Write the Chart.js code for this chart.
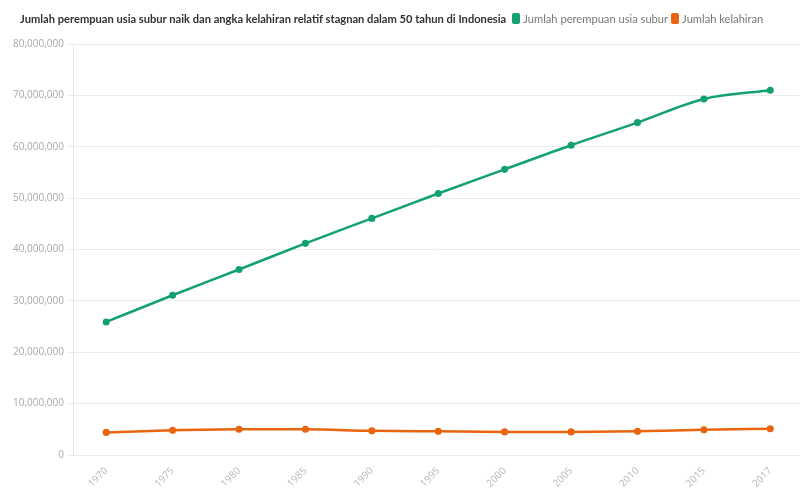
<!DOCTYPE html>
<html>
<head>
<meta charset="utf-8">
<script src="https://cdn.jsdelivr.net/npm/chart.js@4"></script>
<style>
    html, body {
        margin: 0;
        padding: 0;
        background: #fff;
        overflow: hidden;
        width: 800px;
        height: 500px;
    }
    .header {
        position: absolute;
        top: 12px;
        left: 20px;
        display: flex;
        align-items: center;
        font-family: Lato, sans-serif;
        font-size: 11.15px;
        white-space: nowrap;
        z-index: 2;
    }
    .header .title {
        font-weight: bold;
        color: #333;
        margin-right: 6px;
    }
    .header .item {
        display: flex;
        align-items: center;
        color: #777;
        margin-right: 3px;
    }
    .header .swatch {
        width: 8px;
        height: 11px;
        border-radius: 2px;
        margin-right: 3px;
    }
    .chart-box {
        position: absolute;
        top: 0;
        left: 0;
        width: 810px;
        height: 500px;
    }
</style>
</head>
<body>
<div class="header">
    <span class="title" id="chartTitle"></span>
    <span class="item"><span class="swatch" style="background:#12a074"></span><span id="lbl0"></span></span>
    <span class="item"><span class="swatch" style="background:#e8640f"></span><span id="lbl1"></span></span>
</div>
<div class="chart-box">
    <canvas id="mainChart"></canvas>
</div>
<script>
const chartTitle = 'Jumlah perempuan usia subur naik dan angka kelahiran relatif stagnan dalam 50 tahun di Indonesia';
const seriesNames = ['Jumlah perempuan usia subur', 'Jumlah kelahiran'];
const years = ['1970', '1975', '1980', '1985', '1990', '1995', '2000', '2005', '2010', '2015', '2017'];
const womenFertile = [25900000, 31100000, 36100000, 41200000, 46050000, 50900000, 55600000, 60300000, 64700000, 69300000, 71000000];
const births = [4400000, 4800000, 5000000, 5000000, 4700000, 4600000, 4500000, 4500000, 4600000, 4900000, 5100000];
const yTicks = [0, 10000000, 20000000, 30000000, 40000000, 50000000, 60000000, 70000000, 80000000];

const greenColor = '#12a074';
const orangeColor = '#e8640f';

document.getElementById('chartTitle').textContent = chartTitle;
document.getElementById('lbl0').textContent = seriesNames[0];
document.getElementById('lbl1').textContent = seriesNames[1];

const ctx = document.getElementById('mainChart');

new Chart(ctx, {
    type: 'line',
    data: {
        labels: years,
        datasets: [
            {
                label: seriesNames[0],
                data: womenFertile,
                borderColor: greenColor,
                backgroundColor: greenColor,
                borderWidth: 2.5,
                pointRadius: 2.3,
                cubicInterpolationMode: 'monotone'
            },
            {
                label: seriesNames[1],
                data: births,
                borderColor: orangeColor,
                backgroundColor: orangeColor,
                borderWidth: 2.5,
                pointRadius: 2.3,
                cubicInterpolationMode: 'monotone'
            }
        ]
    },
    options: {
        responsive: true,
        maintainAspectRatio: false,
        animation: false,
        layout: {
            padding: { top: 44, right: 0, left: 0, bottom: 0 }
        },
        plugins: {
            legend: { display: false },
            title: { display: false },
            tooltip: { enabled: false }
        },
        scales: {
            y: {
                min: 0,
                max: 80000000,
                afterBuildTicks: function(scale) {
                    scale.ticks = yTicks.map(v => ({ value: v }));
                },
                afterFit: function(scale) {
                    scale.width = 73;
                },
                ticks: {
                    color: '#a8a8a8',
                    font: { family: 'Open Sans', size: 10 },
                    padding: 4,
                    callback: function(value) {
                        return value.toLocaleString('en-US');
                    }
                },
                grid: {
                    color: '#ececec',
                    tickLength: 5
                },
                border: { color: '#e6e6e6' }
            },
            x: {
                offset: true,
                afterFit: function(scale) {
                    scale.height = 45;
                },
                ticks: {
                    color: '#b8b8b8',
                    font: { family: 'Open Sans', size: 10 },
                    minRotation: 45,
                    maxRotation: 45,
                    padding: 2
                },
                grid: { display: false },
                border: { display: false }
            }
        }
    }
});
</script>
</body>
</html>
